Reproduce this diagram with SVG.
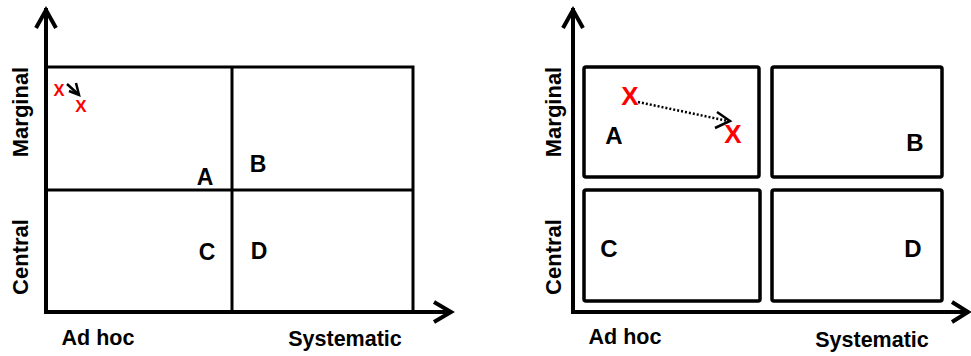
<svg xmlns="http://www.w3.org/2000/svg" width="971" height="356" viewBox="0 0 971 356">
<style>
.ax{stroke:#000;stroke-width:4;fill:none;stroke-linecap:square}
.ah{stroke:#000;stroke-width:4;fill:none;stroke-linejoin:miter}
.gl{stroke:#000;stroke-width:3;fill:none}
.box{stroke:#000;stroke-width:3.5;fill:#fff}
.lbl{font-family:"Liberation Sans",Arial,sans-serif;font-weight:bold;fill:#000;text-anchor:middle}
.x{font-family:"Liberation Sans",Arial,sans-serif;font-weight:bold;fill:#ff0000;text-anchor:middle}
</style>
<rect width="971" height="356" fill="#fff"/>
<g id="left-chart">
  <g id="left-grid">
    <polyline class="gl" points="46,67 413,67 413,312"/>
    <line class="gl" x1="46" y1="190" x2="413" y2="190"/>
    <line class="gl" x1="232" y1="67" x2="232" y2="312"/>
  </g>
  <g id="left-axes">
    <line class="ax" x1="46" y1="312" x2="46" y2="10"/>
    <polyline class="ah" points="36,28 46,10 56,28"/>
    <line class="ax" x1="46" y1="312" x2="448" y2="312"/>
    <polyline class="ah" points="434,302 451,312 434,322"/>
  </g>
  <text class="lbl" font-size="22" transform="translate(28,112) rotate(-90)">Marginal</text>
  <text class="lbl" font-size="22" transform="translate(28,257) rotate(-90)">Central</text>
  <text class="lbl" font-size="21.5" x="98" y="345">Ad hoc</text>
  <text class="lbl" font-size="21.5" x="345" y="346">Systematic</text>
  <g id="left-A"><text class="lbl" font-size="23" x="205" y="185">A</text></g>
  <g id="left-B"><text class="lbl" font-size="23" x="258" y="172">B</text></g>
  <g id="left-C"><text class="lbl" font-size="23" x="207" y="260">C</text></g>
  <g id="left-D"><text class="lbl" font-size="23" x="259" y="259">D</text></g>
  <g id="left-x1"><text class="x" font-size="16.5" x="59" y="95.5">X</text></g>
  <g id="left-x2"><text class="x" font-size="17" x="81" y="111.5">X</text></g>
  <g id="left-move">
    <line x1="67" y1="84" x2="78" y2="94" stroke="#000" stroke-width="2.5"/>
    <polyline points="69,91 79,95 76,83" stroke="#000" stroke-width="2.5" fill="none"/>
  </g>
</g>
<g id="right-chart">
  <g id="right-axes">
    <line class="ax" x1="573" y1="312" x2="573" y2="10"/>
    <polyline class="ah" points="563,28 573,10 583,28"/>
    <line class="ax" x1="573" y1="312" x2="966" y2="312"/>
    <polyline class="ah" points="952,302 968,312 952,322"/>
  </g>
  <g id="box-A"><rect class="box" x="584" y="67" width="175" height="110" rx="2"/><text class="lbl" font-size="24" x="614" y="144">A</text></g>
  <g id="box-B"><rect class="box" x="772" y="67" width="170" height="110" rx="2"/><text class="lbl" font-size="24" x="915" y="151">B</text></g>
  <g id="box-C"><rect class="box" x="584" y="190" width="176" height="111" rx="2"/><text class="lbl" font-size="24" x="609" y="257">C</text></g>
  <g id="box-D"><rect class="box" x="772" y="190" width="170" height="111" rx="2"/><text class="lbl" font-size="24" x="913" y="257">D</text></g>
  <text class="lbl" font-size="22" transform="translate(561,112) rotate(-90)">Marginal</text>
  <text class="lbl" font-size="22" transform="translate(561,257) rotate(-90)">Central</text>
  <text class="lbl" font-size="21.5" x="625" y="344">Ad hoc</text>
  <text class="lbl" font-size="21.5" x="872" y="347">Systematic</text>
  <g id="right-x1"><text class="x" font-size="26" x="630" y="105">X</text></g>
  <g id="right-x2"><text class="x" font-size="26" x="733" y="143">X</text></g>
  <g id="right-move">
    <line x1="638" y1="102" x2="728" y2="121" stroke="#000" stroke-width="2.5" stroke-dasharray="2,2"/>
    <polyline points="717,112 730,121 715,128" stroke="#000" stroke-width="2.5" fill="none"/>
  </g>
</g>
</svg>
